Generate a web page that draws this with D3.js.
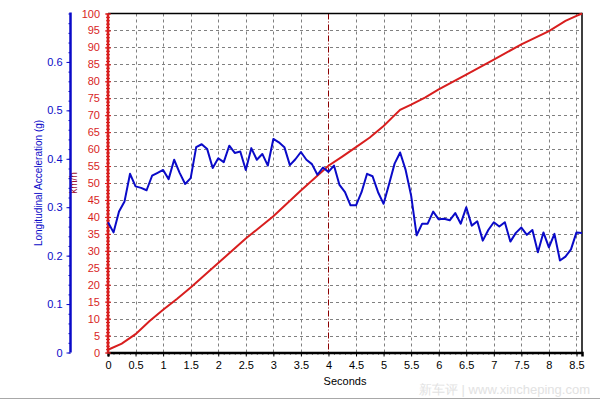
<!DOCTYPE html>
<html>
<head>
<meta charset="utf-8">
<script src="https://cdn.jsdelivr.net/npm/d3@7/dist/d3.min.js"></script>
<style>
  body { margin: 0; background: #fff; }
  text { font-family: Arial, "Liberation Sans", sans-serif; }
</style>
</head>
<body>
<div id="main"></div>
<script>
// acceleration samples (g), one every 0.1 s
const accTime = [0,0.1,0.2,0.3,0.4,0.5,0.6,0.7,0.8,0.9,1,1.1,1.2,1.3,1.4,1.5,1.6,1.7,1.8,1.9,
  2,2.1,2.2,2.3,2.4,2.5,2.6,2.7,2.8,2.9,3,3.1,3.2,3.3,3.4,3.5,3.6,3.7,3.8,3.9,
  4,4.1,4.2,4.3,4.4,4.5,4.6,4.7,4.8,4.9,5,5.1,5.2,5.3,5.4,5.5,5.6,5.7,5.8,5.9,
  6,6.1,6.2,6.3,6.4,6.5,6.6,6.7,6.8,6.9,7,7.1,7.2,7.3,7.4,7.5,7.6,7.7,7.8,7.9,
  8,8.1,8.2,8.3,8.4,8.5,8.6];
const accValues = [0.269,0.248,0.291,0.312,0.369,0.343,0.340,0.335,0.365,0.371,
  0.377,0.358,0.398,0.371,0.348,0.360,0.424,0.430,0.420,0.381,
  0.401,0.393,0.427,0.412,0.415,0.377,0.422,0.398,0.410,0.386,
  0.441,0.434,0.424,0.387,0.399,0.414,0.398,0.389,0.367,0.382,
  0.373,0.386,0.346,0.331,0.304,0.304,0.331,0.369,0.364,0.331,
  0.307,0.348,0.390,0.413,0.377,0.324,0.242,0.266,0.266,0.291,
  0.275,0.276,0.273,0.288,0.266,0.300,0.262,0.271,0.231,0.253,
  0.269,0.260,0.269,0.229,0.247,0.258,0.243,0.253,0.207,0.248,
  0.217,0.245,0.190,0.198,0.213,0.248,0.247];

// speed (km/h)
const speedTime = [0,0.25,0.5,0.75,1,1.25,1.5,1.75,2,2.5,3,3.5,4,4.25,4.5,4.75,5,5.15,5.3,5.5,5.75,6,6.5,7,7.5,8,8.3,8.5,8.6];
const speedValues = [0.8,2.6,5.4,9.2,12.6,15.8,19.2,22.8,26.4,33.6,40.2,47.8,55.1,57.8,60.6,63.4,66.8,69.2,71.6,73.1,75.2,77.6,82,86.4,90.9,94.8,97.8,99.3,100];

const xTicks = [0,0.5,1,1.5,2,2.5,3,3.5,4,4.5,5,5.5,6,6.5,7,7.5,8,8.5];
const speedTicks = [0,5,10,15,20,25,30,35,40,45,50,55,60,65,70,75,80,85,90,95,100];
const accTicks = [0,0.1,0.2,0.3,0.4,0.5,0.6];
const markerTime = 4;

const w = 600, h = 400;
const plotLeft = 108, plotRight = 582, plotTop = 13.5, plotBottom = 352.5;
const accAxisX = 70.5;

const blue = "#0a0ac8";
const red = "#d81e1e";
const fontFam = "Arial, 'Liberation Sans', sans-serif";

const x = d3.scaleLinear().domain([0, 8.6]).range([plotLeft, plotRight]);
const ySpeed = d3.scaleLinear().domain([0, 100]).range([plotBottom, plotTop]);
const yAcc = d3.scaleLinear().domain([0, 0.7]).range([plotBottom, plotTop]);

const svg = d3.select("#main").append("svg")
  .attr("width", w).attr("height", h);

// grid
const grid = svg.append("g").attr("stroke", "#808080").attr("stroke-dasharray", "3,3").attr("stroke-width", 1);
grid.selectAll("line.h").data(speedTicks.filter(d => d > 0 && d < 100)).enter().append("line")
  .attr("x1", plotLeft).attr("x2", plotRight)
  .attr("y1", d => Math.round(ySpeed(d)) + 0.5).attr("y2", d => Math.round(ySpeed(d)) + 0.5);
grid.selectAll("line.v").data(xTicks.filter(d => d > 0 && d !== markerTime)).enter().append("line")
  .attr("y1", plotTop).attr("y2", plotBottom)
  .attr("x1", d => Math.round(x(d)) + 0.5).attr("x2", d => Math.round(x(d)) + 0.5);

// marker line at 4 s
svg.append("line")
  .attr("x1", Math.round(x(markerTime)) + 0.5).attr("x2", Math.round(x(markerTime)) + 0.5)
  .attr("y1", plotTop).attr("y2", plotBottom)
  .attr("stroke", "#8b0000").attr("stroke-dasharray", "6,2,1,2").attr("stroke-width", 1);

// frame: top and right black
svg.append("path")
  .attr("d", `M${plotLeft},${plotTop}H${plotRight}V${plotBottom}`)
  .attr("fill", "none").attr("stroke", "#000").attr("stroke-width", 1.5);

// x axis
const xAxis = d3.axisBottom(x).tickValues(xTicks).tickSize(4).tickPadding(5).tickFormat(d3.format("~g"));
const gx = svg.append("g").attr("transform", `translate(0,${plotBottom})`).call(xAxis);
gx.select(".domain").attr("stroke", "#000").attr("stroke-width", 2.5);
gx.selectAll(".tick line").attr("stroke", "#000");
gx.selectAll(".tick text").attr("font-size", 11).attr("fill", "#000").attr("font-family", fontFam);
const gxMinor = svg.append("g").attr("transform", `translate(0,${plotBottom})`)
  .call(d3.axisBottom(x).ticks(86).tickSize(2).tickFormat(""));
gxMinor.select(".domain").remove();
gxMinor.selectAll(".tick line").attr("stroke", "#000");

svg.append("text")
  .attr("x", 345).attr("y", 385)
  .attr("text-anchor", "middle").attr("font-size", 11)
  .text("Seconds");

// speed axis (red)
const ySpeedAxis = d3.axisLeft(ySpeed).tickValues(speedTicks).tickSize(5).tickPadding(3);
const gs = svg.append("g").attr("transform", `translate(${plotLeft},0)`).call(ySpeedAxis);
gs.select(".domain").remove();
gs.selectAll(".tick line").attr("stroke", red).attr("x2", 3).attr("x1", -3);
gs.selectAll(".tick text").attr("font-size", 11).attr("fill", red).attr("font-family", fontFam);
const gsMinor = svg.append("g").attr("transform", `translate(${plotLeft},0)`)
  .call(d3.axisLeft(ySpeed).ticks(100).tickSize(0).tickFormat(""));
gsMinor.select(".domain").remove();
gsMinor.selectAll(".tick line").attr("stroke", red).attr("x1", -2).attr("x2", 2);
svg.append("line")
  .attr("x1", plotLeft).attr("x2", plotLeft).attr("y1", plotTop).attr("y2", plotBottom)
  .attr("stroke", red).attr("stroke-width", 2.5);

svg.append("text")
  .attr("transform", `translate(77,${(plotTop + plotBottom) / 2}) rotate(-90)`)
  .attr("text-anchor", "middle").attr("font-size", 10)
  .attr("fill", "#a01030")
  .text("km/h");

// acceleration axis (blue)
const yAccAxis = d3.axisLeft(yAcc).tickValues(accTicks).tickSize(4).tickPadding(4).tickFormat(d3.format("~g"));
const ga = svg.append("g").attr("transform", `translate(${accAxisX},0)`).call(yAccAxis);
ga.select(".domain").remove();
ga.selectAll(".tick line").attr("stroke", blue);
ga.selectAll(".tick text").attr("font-size", 11).attr("fill", blue).attr("font-family", fontFam);
const gaMinor = svg.append("g").attr("transform", `translate(${accAxisX},0)`)
  .call(d3.axisLeft(yAcc).ticks(28).tickSize(2).tickFormat(""));
gaMinor.select(".domain").remove();
gaMinor.selectAll(".tick line").attr("stroke", blue);
svg.append("line")
  .attr("x1", accAxisX).attr("x2", accAxisX).attr("y1", plotTop - 1).attr("y2", plotBottom)
  .attr("stroke", blue).attr("stroke-width", 2.5);

svg.append("text")
  .attr("transform", `translate(42,${(plotTop + plotBottom) / 2}) rotate(-90)`)
  .attr("text-anchor", "middle").attr("font-size", 10)
  .attr("fill", blue)
  .text("Longitudinal Acceleration (g)");

// series
const speedLine = d3.line().x((d, i) => x(speedTime[i])).y(d => ySpeed(d));
svg.append("path").datum(speedValues)
  .attr("d", speedLine)
  .attr("fill", "none").attr("stroke", red).attr("stroke-width", 2);

const accLine = d3.line().x((d, i) => x(accTime[i])).y(d => yAcc(d));
svg.append("path").datum(accValues)
  .attr("d", accLine)
  .attr("fill", "none").attr("stroke", blue).attr("stroke-width", 2)
  .attr("stroke-linejoin", "round");

// watermark + bottom border
svg.append("text")
  .attr("x", 590).attr("y", 394)
  .attr("text-anchor", "end").attr("font-size", 13)
  .attr("font-family", "'Noto Sans CJK SC', sans-serif")
  .attr("fill", "#e2e2e2")
  .text("新车评 | www.xincheping.com");
svg.append("line")
  .attr("x1", 0).attr("x2", w).attr("y1", 398.5).attr("y2", 398.5)
  .attr("stroke", "#a8a8a8");
</script>
</body>
</html>
